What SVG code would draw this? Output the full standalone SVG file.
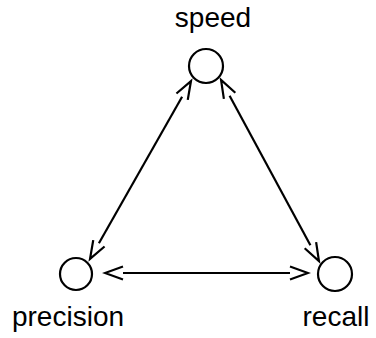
<svg xmlns="http://www.w3.org/2000/svg" width="376" height="338" viewBox="0 0 376 338">
<style>
.node{fill:none;stroke:#000;stroke-width:2.2}
.lbl{font-family:"Liberation Sans",Arial,sans-serif;font-size:28px;fill:#000;text-anchor:middle}
.edge{fill:none;stroke:#000;stroke-width:2.2;marker-start:url(#ah);marker-end:url(#ah)}
</style>
<defs>
<marker id="ah" markerUnits="userSpaceOnUse" markerWidth="22" markerHeight="16" refX="1" refY="8" orient="auto-start-reverse" viewBox="0 0 22 16">
<path d="M1,1.5 L19,8 L1,14.5" fill="none" stroke="#000" stroke-width="2.2"/>
</marker>
</defs>
<rect width="376" height="338" fill="#fff"/>
<g id="connectors">
<line class="edge" x1="182.1" y1="96.7" x2="98.9" y2="243.3"/>
<line class="edge" x1="229.6" y1="95.8" x2="310.4" y2="245.2"/>
<line class="edge" x1="123" y1="273" x2="290" y2="273"/>
</g>
<g id="speed">
<circle class="node" cx="206" cy="66" r="17"/>
<text class="lbl" x="213" y="27">speed</text>
</g>
<g id="precision">
<circle class="node" cx="76" cy="274" r="16"/>
<text class="lbl" x="68" y="326">precision</text>
</g>
<g id="recall">
<circle class="node" cx="335" cy="274" r="17"/>
<text class="lbl" x="336" y="326">recall</text>
</g>
</svg>
